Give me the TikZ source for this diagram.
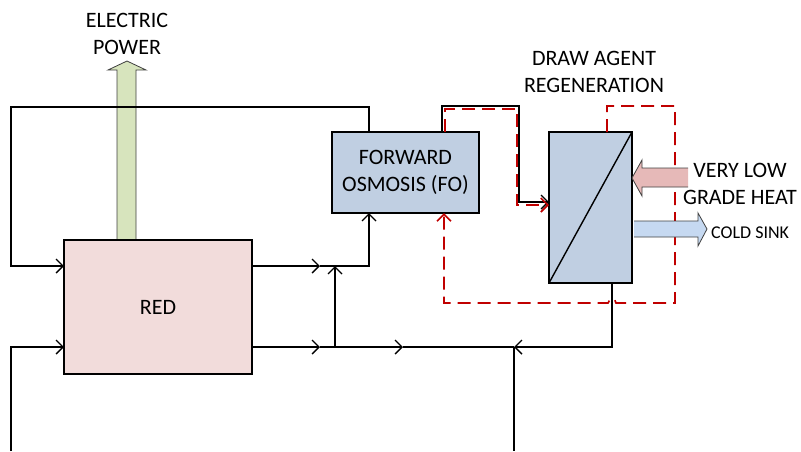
\documentclass[tikz,border=0pt]{standalone}
\usepackage{fontspec}
\setmainfont{Carlito}
\usetikzlibrary{arrows.meta}
\definecolor{redfill}{HTML}{F2DCDB}
\definecolor{bluefill}{HTML}{C0CFE2}
\definecolor{greenfill}{HTML}{D7E4BD}
\definecolor{pinkfill}{HTML}{E6B9B8}
\definecolor{coldfill}{HTML}{C6D9F1}
\definecolor{dashred}{HTML}{C00000}
\definecolor{outl}{HTML}{404040}
\begin{document}
\begin{tikzpicture}[x=1pt,y=-1pt,
  line/.style={line width=1.4pt, black},
  barb/.style={-{Straight Barb[length=7pt,width=14pt]}},
  redline/.style={line width=1.7pt, draw=dashred, dash pattern=on 13pt off 7pt},
  box/.style={draw, line width=1.7pt, inner sep=0pt, outer sep=0pt, align=center},
  lbl/.style={font=\fontsize{22}{27}\selectfont, align=center},
  small/.style={font=\fontsize{18}{21}\selectfont}]
\useasboundingbox (0,0) rectangle (801,451);

% electric power arrow (behind RED box)
\draw[fill=greenfill, draw=outl, line width=0.8pt]
  (117,241) -- (117,70) -- (108,70) -- (127,61) -- (146,70) -- (136,70) -- (136,241);

% boxes
\node[box, fill=redfill, minimum width=188pt, minimum height=134pt, lbl] (red) at (158,307) {RED};
\node[box, fill=bluefill, minimum width=147pt, minimum height=81pt, lbl] (fo) at (405.5,172.5) {FORWARD\\OSMOSIS (FO)};
\node[box, fill=bluefill, minimum width=83pt, minimum height=151pt] (mem) at (590.5,207.5) {};
\draw[line] (mem.south west) -- (mem.north east);

% labels
\node[lbl] (elec) at (127,34) {ELECTRIC\\POWER};
\node[lbl] (dar) at (594,72) {DRAW AGENT\\REGENERATION};
\node[lbl] (heat) at (740,183.5) {VERY LOW\\GRADE HEAT};
\node[small, anchor=west, inner sep=0pt] (cold) at (711,233) {COLD SINK};

% helper coordinates
\coordinate (yU) at (0,266);
\coordinate (yL) at (0,347);
\coordinate (botL) at (11,451);
\coordinate (botM) at (514,451);
\coordinate (j1) at (335,347);
\coordinate (j2) at (514,347);

% top loop: FO -> RED upper input
\draw[line, barb] ([xshift=37pt]fo.north west) |- (11,107) |- (red.west |- yU);
% bottom left input
\draw[line, barb] (botL) |- (red.west |- yL);

% RED upper output -> FO bottom
\draw[line, barb] (red.east |- yU) -- (320,266);
\draw[line, barb] (320,266) -| ([xshift=37pt]fo.south west);
% RED lower output
\draw[line, barb] (red.east |- yL) -- (320,347);
\draw[line] (320,347) -- (j1);
\draw[line, barb] (j1) -- (335,266);
\draw[line, barb] (j1) -- (403,347);
\draw[line] (403,347) -- (j2);
% membrane bottom -> junction -> down
\draw[line, barb] ([xshift=-20pt]mem.south east) |- (j2);
\draw[line] (j2) -- (botM);

% FO top -> membrane (black)
\draw[line, barb] ([xshift=110pt]fo.north west) |- (519,106) |- ([yshift=-70pt]mem.north west);

% red dashed: FO -> membrane
\draw[redline, barb] ([xshift=113pt]fo.north west) |- (517,109) |- ([yshift=-73pt]mem.north west);
% red dashed loop: membrane top -> around -> FO bottom
\draw[redline, barb] ([xshift=58pt]mem.north west) |- (675,106) |- (616,303)
  .. controls (615,297) and (610,297) .. (608,303) -- (444,303) -- ([xshift=112pt]fo.south west);

% heat arrow (over dashed line)
\fill[pinkfill] (688,168) -- (642,168) -- (642,160) -- (632,178) -- (642,196) -- (642,187) -- (688,187) -- cycle;
\draw[draw=outl, line width=0.8pt] (688,168) -- (642,168) -- (642,160) -- (632,178) -- (642,196) -- (642,187) -- (688,187);

% cold sink arrow
\fill[coldfill] (634,221) -- (698,221) -- (698,213) -- (707,229) -- (698,246) -- (698,237) -- (634,237) -- cycle;
\draw[draw=outl, line width=0.8pt] (634,221) -- (698,221) -- (698,213) -- (707,229) -- (698,246) -- (698,237) -- (634,237);
\end{tikzpicture}
\end{document}
